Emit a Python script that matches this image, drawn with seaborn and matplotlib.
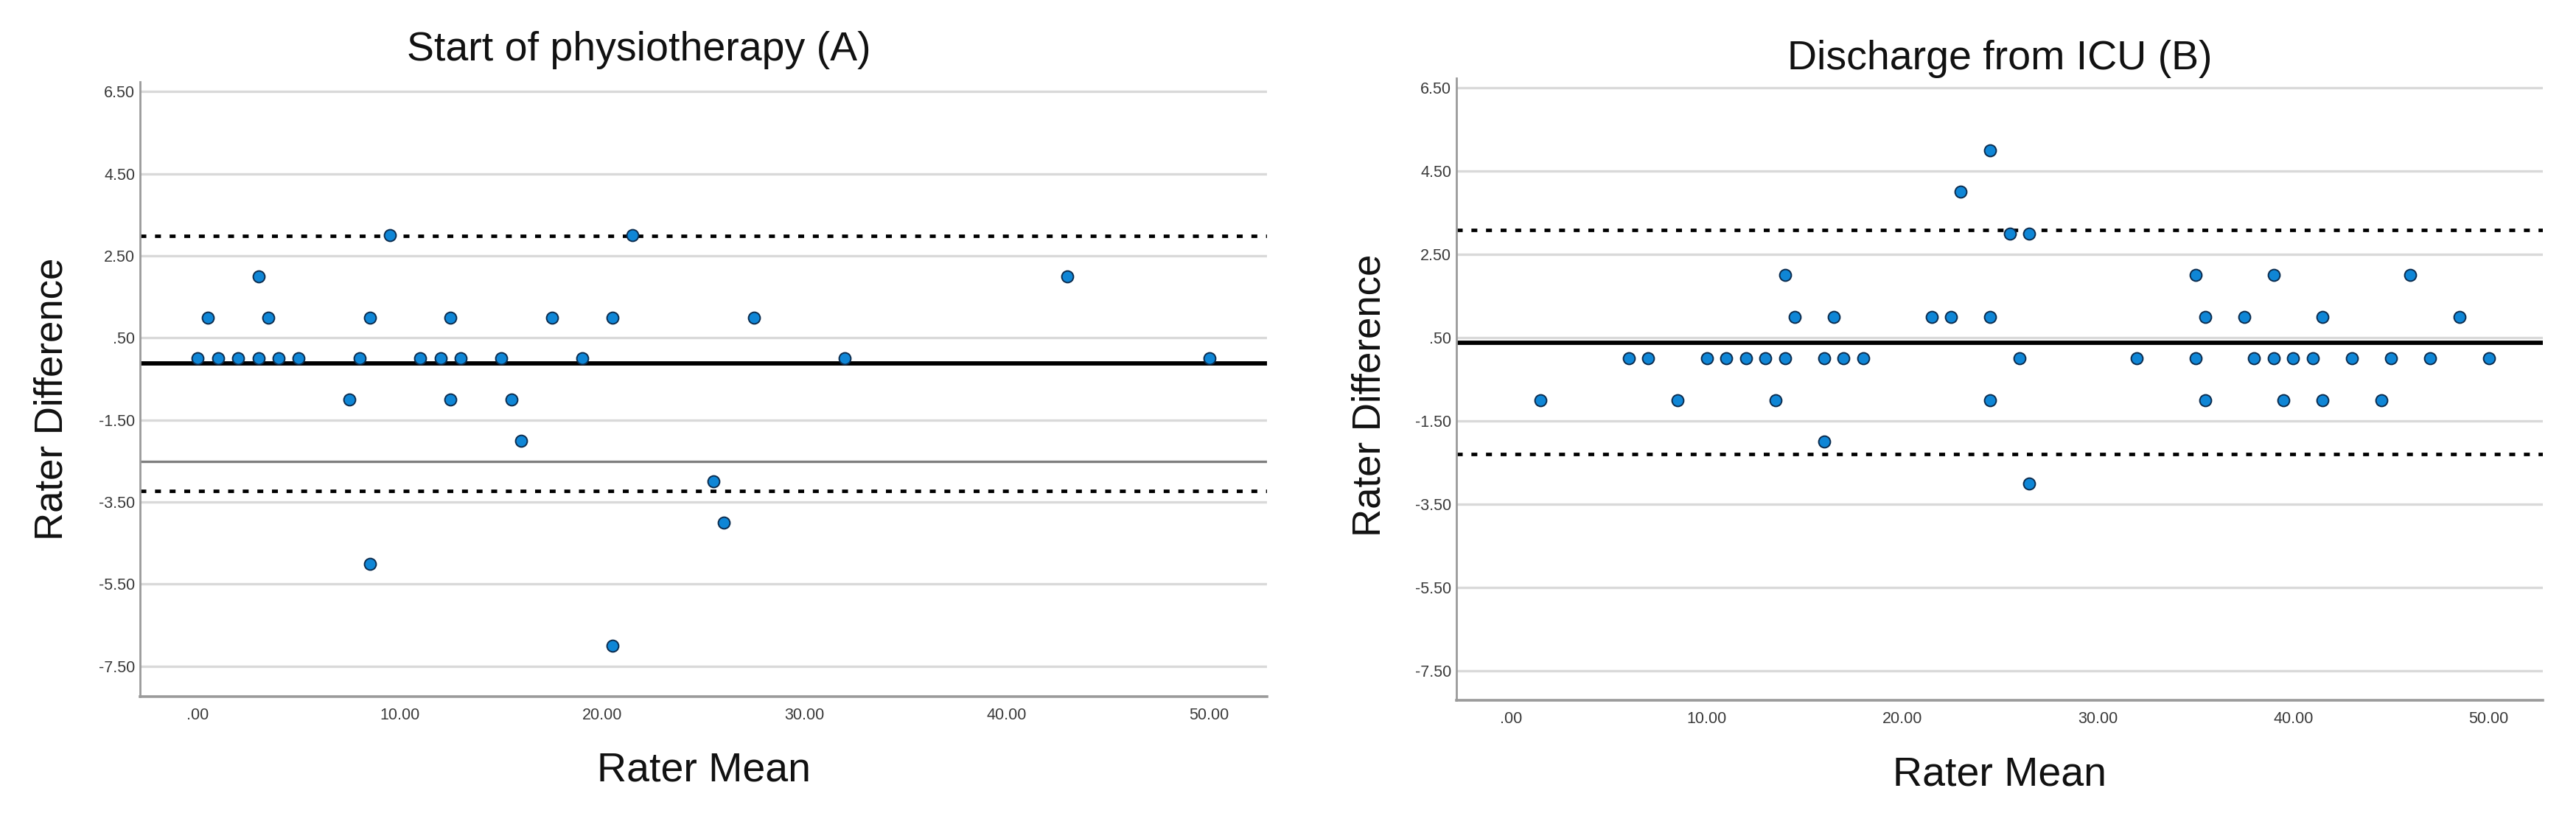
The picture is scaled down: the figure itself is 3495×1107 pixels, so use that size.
import matplotlib
matplotlib.use("Agg")
import matplotlib.pyplot as plt
import seaborn as sns
import pandas as pd
from matplotlib.ticker import FixedLocator, FuncFormatter

# ---------------- data ----------------
# Panel A: Start of physiotherapy
a_mean = [0, 1, 2, 3, 4, 5, 8, 11, 12, 13, 15, 19, 32, 50,
          0.5, 3.5, 8.5, 12.5, 17.5, 20.5, 27.5,
          3, 43,
          9.5, 21.5,
          7.5, 12.5, 15.5,
          16, 25.5, 26, 8.5, 20.5]
a_diff = [0, 0, 0, 0, 0, 0, 0, 0, 0, 0, 0, 0, 0, 0,
          1, 1, 1, 1, 1, 1, 1,
          2, 2,
          3, 3,
          -1, -1, -1,
          -2, -3, -4, -5, -7]
a_bias = -0.13
a_upper = 2.98
a_lower = -3.23
a_ref = -2.51

# Panel B: Discharge from ICU
b_mean = [6, 7, 10, 11, 12, 13, 14, 16, 17, 18, 26, 32, 35, 38, 39, 40, 41, 43, 45, 47, 50,
          14.5, 16.5, 21.5, 22.5, 24.5, 35.5, 37.5, 41.5, 48.5,
          14, 35, 39, 46,
          25.5, 26.5,
          23,
          24.5,
          1.5, 8.5, 13.5, 24.5, 35.5, 39.5, 41.5, 44.5,
          16,
          26.5]
b_diff = [0, 0, 0, 0, 0, 0, 0, 0, 0, 0, 0, 0, 0, 0, 0, 0, 0, 0, 0, 0, 0,
          1, 1, 1, 1, 1, 1, 1, 1, 1,
          2, 2, 2, 2,
          3, 3,
          4,
          5,
          -1, -1, -1, -1, -1, -1, -1, -1,
          -2,
          -3]
b_bias = 0.38
b_upper = 3.08
b_lower = -2.30

titles = ["Start of physiotherapy (A)", "Discharge from ICU (B)"]
x_label = "Rater Mean"
y_label = "Rater Difference"
y_ticks = [6.5, 4.5, 2.5, 0.5, -1.5, -3.5, -5.5, -7.5]
x_ticks = [0, 10, 20, 30, 40, 50]

df_a = pd.DataFrame({"mean": a_mean, "diff": a_diff})
df_b = pd.DataFrame({"mean": b_mean, "diff": b_diff})

# ---------------- style ----------------
sns.set_theme(style="white")
plt.rcParams["font.family"] = ["Liberation Sans", "DejaVu Sans"]

W, H = 3495, 1107
DPI = 100
fig = plt.figure(figsize=(W / DPI, H / DPI), dpi=DPI)


def px_axes(left, top, right, bottom):
    return fig.add_axes([left / W, 1 - bottom / H, (right - left) / W, (bottom - top) / H])


ax_a = px_axes(190, 111, 1719, 945)
ax_b = px_axes(1976, 106, 3450, 950)


def spss_fmt(v, pos=None):
    s = f"{v:.2f}"
    if s.startswith("0."):
        s = s[1:]
    elif s.startswith("-0."):
        s = "-" + s[2:]
    return s


POINT_FILL = "#0f86d6"
POINT_EDGE = "#0c2c4e"
GRID = "#d9d9d9"
SPINE = "#9a9a9a"


def style_axes(ax, xlim, ylim, title, title_x, title_y, ylab_x, ylab_y):
    ax.set_xlim(*xlim)
    ax.set_ylim(*ylim)
    ax.yaxis.set_major_locator(FixedLocator(y_ticks))
    ax.xaxis.set_major_locator(FixedLocator(x_ticks))
    ax.yaxis.set_major_formatter(FuncFormatter(spss_fmt))
    ax.xaxis.set_major_formatter(FuncFormatter(spss_fmt))
    ax.grid(axis="y", color=GRID, linewidth=2.4, zorder=0)
    ax.grid(axis="x", visible=False)
    ax.set_axisbelow(True)
    for s in ["top", "right"]:
        ax.spines[s].set_visible(False)
    ax.spines["left"].set_color(SPINE)
    ax.spines["left"].set_linewidth(2.0)
    ax.spines["bottom"].set_color(SPINE)
    ax.spines["bottom"].set_linewidth(2.6)
    ax.tick_params(axis="both", length=0, labelsize=15.5, labelcolor="#3a3a3a")
    ax.tick_params(axis="x", pad=11)
    ax.tick_params(axis="y", pad=5)
    fig.text(title_x / W, title_y, title, fontsize=40,
             ha="center", va="center", color="#111111")


def set_labels(ax, ylab_x, ylab_y):
    ax.set_xlabel(x_label, fontsize=40, color="#111111")
    ax.set_ylabel(y_label, fontsize=38, color="#111111")
    ax.xaxis.set_label_coords(0.5, -0.12)
    ax.xaxis.label.set_va("center")
    ax.yaxis.set_label_coords(ylab_x, ylab_y)
    ax.yaxis.label.set_va("center")
    ax.yaxis.label.set_ha("center")


dot_style = dict(linestyle=(0, (1.7, 2.5)), color="black", linewidth=3.4, zorder=2)
pt_style = dict(s=130, color=POINT_FILL, edgecolor=POINT_EDGE, linewidth=1.4, zorder=3, legend=False)

# ---------------- panel A ----------------
style_axes(ax_a, (-2.85, 52.86), (-8.24, 6.74), titles[0], 867, 1 - 68 / H, -0.078, 0.484)
ax_a.axhline(a_upper, **dot_style)
ax_a.axhline(a_lower, **dot_style)
ax_a.axhline(a_ref, color="#7f7f7f", linewidth=2.4, zorder=2)
ax_a.axhline(a_bias, color="black", linewidth=4.2, zorder=2)
sns.scatterplot(data=df_a, x="mean", y="diff", ax=ax_a, **pt_style)
set_labels(ax_a, -0.078, 0.484)

# ---------------- panel B ----------------
style_axes(ax_b, (-2.81, 52.77), (-8.21, 6.73), titles[1], 2713, 1 - 80 / H, -0.08, 0.49)
ax_b.axhline(b_upper, **dot_style)
ax_b.axhline(b_lower, **dot_style)
ax_b.axhline(b_bias, color="black", linewidth=4.2, zorder=2)
sns.scatterplot(data=df_b, x="mean", y="diff", ax=ax_b, **pt_style)
set_labels(ax_b, -0.08, 0.49)

fig.savefig("out.png", dpi=DPI, facecolor="white")
